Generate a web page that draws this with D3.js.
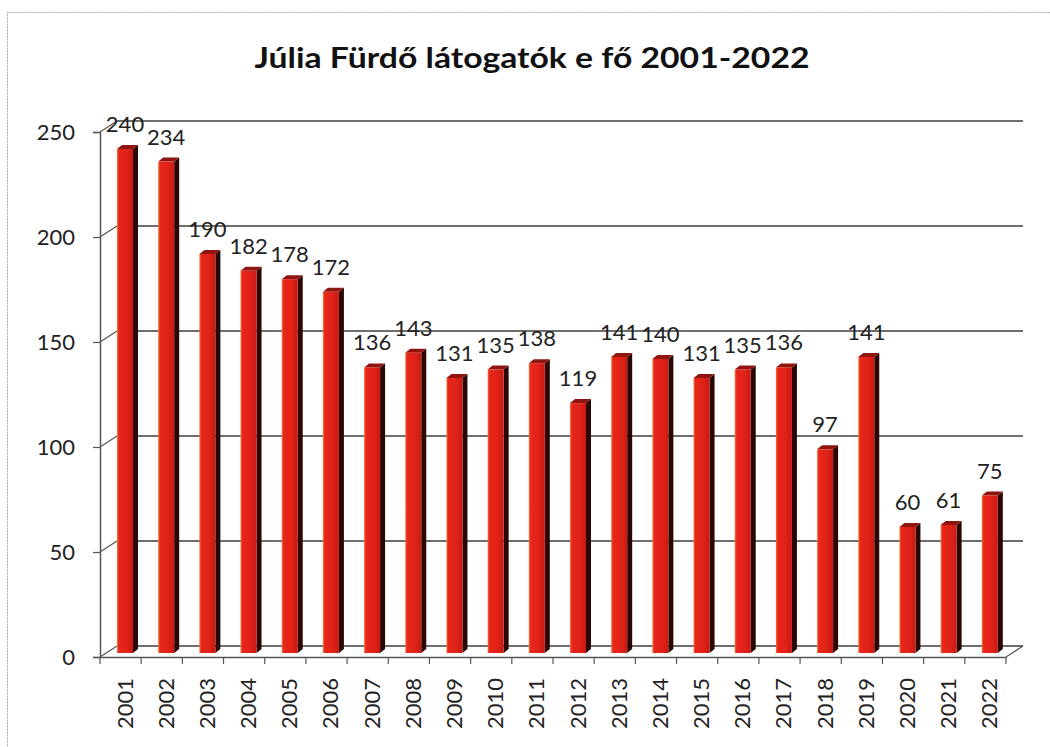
<!DOCTYPE html>
<html>
<head>
<meta charset="utf-8">
<script src="https://cdn.jsdelivr.net/npm/d3@7"></script>
<style>
  html, body { margin: 0; padding: 0; background: #fff; }
  svg { display: block; }
</style>
</head>
<body>
<svg id="chart" width="1050" height="747"></svg>
<script>
// ---- data ----
const title = "Júlia Fürdő látogatók e fő 2001-2022";
const years = ["2001","2002","2003","2004","2005","2006","2007","2008","2009","2010","2011",
               "2012","2013","2014","2015","2016","2017","2018","2019","2020","2021","2022"];
const visitors = [240,234,190,182,178,172,136,143,131,135,138,119,141,140,131,135,136,97,141,60,61,75];
const yTicks = [0,50,100,150,200,250];

// ---- layout ----
const svg = d3.select("#chart");
const W = 1050, H = 747;
const x0 = 100, x1 = 1006;       // front floor extent
const yBase = 657;               // front floor y
const depthX = 17, depthY = -11; // back wall offset
const font = "Lato, 'Open Sans', sans-serif";

const x = d3.scaleBand().domain(years).range([x0, x1]).paddingInner(0).paddingOuter(0);
const y = d3.scaleLinear().domain([0, 250]).range([yBase, yBase - 525]);

// frame
svg.append("rect").attr("x", 7.5).attr("y", 12.5).attr("width", 1100).attr("height", 900)
  .attr("fill", "none").attr("stroke", "#aaa").attr("stroke-width", 1).attr("stroke-dasharray", "2,1");

// title
svg.append("text").attr("x", 532).attr("y", 68).attr("text-anchor", "middle")
  .attr("font-family", font).attr("font-weight", 700).attr("font-size", 29)
  .attr("textLength", 555).attr("lengthAdjust", "spacingAndGlyphs")
  .attr("fill", "#111").text(title);

const grid = svg.append("g");
// back gridlines + diagonal connectors
yTicks.forEach(t => {
  const yy = y(t);
  grid.append("line").attr("x1", x0 + depthX).attr("x2", x1 + depthX)
    .attr("y1", yy + depthY).attr("y2", yy + depthY)
    .attr("stroke", "#6e6e6e").attr("stroke-width", 2);
  grid.append("line").attr("x1", x0).attr("y1", yy).attr("x2", x0 + depthX).attr("y2", yy + depthY)
    .attr("stroke", "#555").attr("stroke-width", 1.2);
});
// floor right edge
grid.append("line").attr("x1", x1).attr("y1", yBase).attr("x2", x1 + depthX).attr("y2", yBase + depthY)
  .attr("stroke", "#555").attr("stroke-width", 1.2);

// y axis (front)
const yAxis = d3.axisLeft(y).tickValues(yTicks).tickSize(7).tickPadding(18);
const gy = svg.append("g").attr("transform", `translate(${x0},0)`).call(yAxis);
gy.select(".domain").attr("stroke", "#555").attr("stroke-width", 1.5);
gy.selectAll(".tick line").attr("stroke", "#555").attr("stroke-width", 1.2);
gy.selectAll(".tick text").attr("font-family", font).attr("font-size", 22).attr("fill", "#222");

// x axis (front floor)
const xAxis = d3.axisBottom(x).tickSize(0).tickFormat("");
const gx = svg.append("g").attr("transform", `translate(0,${yBase})`).call(xAxis);
gx.select(".domain").attr("stroke", "#555").attr("stroke-width", 1.5);
// tick marks at band boundaries
const bounds = years.map(d => x(d)).concat([x1]);
gx.selectAll("line.bt").data(bounds).join("line").attr("class", "bt")
  .attr("x1", d => d).attr("x2", d => d).attr("y1", 0).attr("y2", 7)
  .attr("stroke", "#555").attr("stroke-width", 1.2);
// rotated year labels
svg.append("g").selectAll("text").data(years).join("text")
  .attr("transform", d => `translate(${x(d) + 24},678) rotate(-90)`)
  .attr("text-anchor", "end").attr("dominant-baseline", "central")
  .attr("font-family", font).attr("font-size", 22).attr("fill", "#222")
  .text(d => d);

// bars
const defs = svg.append("defs");
const grad = defs.append("linearGradient").attr("id", "front").attr("x1", "0").attr("x2", "1");
grad.append("stop").attr("offset", "0").attr("stop-color", "#f07a3a");
grad.append("stop").attr("offset", "0.12").attr("stop-color", "#e8261b");
grad.append("stop").attr("offset", "0.6").attr("stop-color", "#e02218");
grad.append("stop").attr("offset", "1").attr("stop-color", "#c81a12");

const bw = 16, bdx = 5, bdy = -4, barOff = 17, barBase = yBase - 4;
const yb = v => barBase - (yBase - y(v));
const bars = svg.append("g").selectAll("g").data(years).join("g");
bars.each(function(d, i) {
  const g = d3.select(this);
  const left = x(d) + barOff, top = yb(visitors[i]);
  // side face
  g.append("path").attr("d",
    `M${left + bw},${barBase} L${left + bw + bdx},${barBase + bdy} L${left + bw + bdx},${top + bdy} L${left + bw},${top} Z`)
    .attr("fill", "#2a0703");
  // top face
  g.append("path").attr("d",
    `M${left},${top} L${left + bdx},${top + bdy} L${left + bw + bdx},${top + bdy} L${left + bw},${top} Z`)
    .attr("fill", "#8e160e");
  // front face
  g.append("rect").attr("x", left).attr("y", top).attr("width", bw).attr("height", barBase - top)
    .attr("fill", "url(#front)");
});

// data labels
svg.append("g").selectAll("text").data(years).join("text")
  .attr("x", d => x(d) + barOff + bw / 2)
  .attr("y", (d, i) => yb(visitors[i]) - 17)
  .attr("text-anchor", "middle")
  .attr("font-family", font).attr("font-size", 22).attr("fill", "#222")
  .text((d, i) => visitors[i]);
</script>
</body>
</html>
